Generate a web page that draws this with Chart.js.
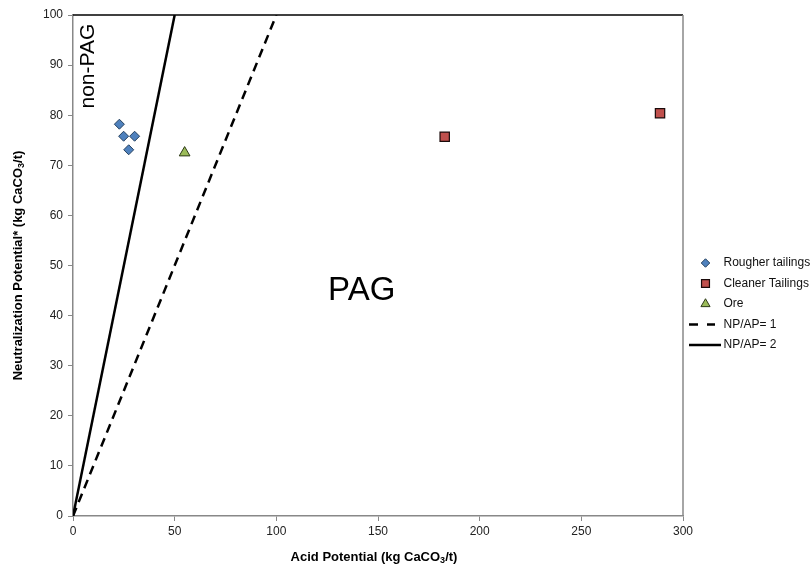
<!DOCTYPE html>
<html>
<head>
<meta charset="utf-8">
<script src="https://cdn.jsdelivr.net/npm/chart.js@4/dist/chart.umd.min.js"></script>
<style>
  body { margin: 0; background: #fff; }
  canvas { display: block; }
</style>
</head>
<body>
<canvas id="abaChart" width="811" height="567"></canvas>
<script>
// values
const roughX = [22.8, 24.9, 30.3, 27.4];
const roughY = [78.2, 75.8, 75.8, 73.1];
const cleanerX = [182.8, 288.7];
const cleanerY = [75.7, 80.4];
const oreX = [54.9];
const oreY = [72.5];
const np1X = [0, 100];
const np1Y = [0, 100];
const np2X = [0, 50];
const np2Y = [0, 100];

const xTicks = [0, 50, 100, 150, 200, 250, 300];
const yTicks = [0, 10, 20, 30, 40, 50, 60, 70, 80, 90, 100];

const FONT = "'Liberation Sans', Arial, sans-serif";
const pts = (xs, ys) => xs.map((x, i) => ({ x: x, y: ys[i] }));

// legend, region labels, box edges and axis titles (with subscript 3)
const decor = {
  id: "decor",
  afterDraw(chart) {
    const ctx = chart.ctx;
    const a = chart.chartArea;
    const xs = chart.scales.x;
    const ys = chart.scales.y;
    ctx.save();

    // plot box top + right edge
    ctx.lineWidth = 1.5;
    ctx.strokeStyle = "#000";
    ctx.beginPath();
    ctx.moveTo(a.left, a.top);
    ctx.lineTo(a.right, a.top);
    ctx.stroke();
    ctx.strokeStyle = "#888";
    ctx.beginPath();
    ctx.moveTo(a.right, a.top);
    ctx.lineTo(a.right, a.bottom);
    ctx.stroke();

    // region labels
    ctx.fillStyle = "#000";
    ctx.textAlign = "center";
    ctx.textBaseline = "middle";
    ctx.font = "33px " + FONT;
    ctx.fillText("PAG", xs.getPixelForValue(142), ys.getPixelForValue(45));
    ctx.save();
    ctx.translate(xs.getPixelForValue(7.4), ys.getPixelForValue(89.8));
    ctx.rotate(-Math.PI / 2);
    ctx.font = "21px " + FONT;
    ctx.fillText("non-PAG", 0, 0);
    ctx.restore();

    // axis titles
    const sub = (parts, cx, cy) => {
      const big = "bold 13px " + FONT;
      const small = "bold 9px " + FONT;
      let w = 0;
      parts.forEach(p => { ctx.font = p[1] ? small : big; w += ctx.measureText(p[0]).width; });
      let x = cx - w / 2;
      ctx.textAlign = "left";
      parts.forEach(p => {
        ctx.font = p[1] ? small : big;
        ctx.fillText(p[0], x, p[1] ? cy + 4 : cy);
        x += ctx.measureText(p[0]).width;
      });
    };
    sub([["Acid Potential (kg CaCO", 0], ["3", 1], ["/t)", 0]], (a.left + a.right) / 2 - 4, 557);
    ctx.save();
    ctx.translate(18, (a.top + a.bottom) / 2);
    ctx.rotate(-Math.PI / 2);
    sub([["Neutralization Potential* (kg CaCO", 0], ["3", 1], ["/t)", 0]], 0, 0);
    ctx.restore();

    // legend
    let ly = 263;
    ctx.font = "12px " + FONT;
    ctx.textBaseline = "middle";
    chart.data.datasets.forEach(ds => {
      if (ds.showLine) {
        ctx.strokeStyle = ds.borderColor;
        ctx.lineWidth = ds.borderWidth;
        ctx.setLineDash(ds.borderDash ? [9, 9] : []);
        ctx.beginPath();
        ctx.moveTo(689, ly);
        ctx.lineTo(ds.borderDash ? 715 : 721, ly);
        ctx.stroke();
        ctx.setLineDash([]);
      } else {
        ctx.fillStyle = ds.backgroundColor;
        ctx.strokeStyle = ds.borderColor;
        ctx.lineWidth = ds.borderWidth;
        Chart.helpers.drawPoint(ctx, { pointStyle: ds.pointStyle, radius: ds.pointRadius * 0.85, rotation: 0, borderWidth: ds.borderWidth }, 705.5, ly);
      }
      ctx.fillStyle = "#111";
      ctx.textAlign = "left";
      ctx.fillText(ds.label, 723.5, ly);
      ly += 20.5;
    });
    ctx.restore();
  }
};

new Chart(document.getElementById("abaChart"), {
  type: "scatter",
  data: {
    datasets: [
      { label: "Rougher tailings", data: pts(roughX, roughY), pointStyle: "rectRot", pointRadius: 5, backgroundColor: "#4F81BD", borderColor: "#26415f", borderWidth: 1 },
      { label: "Cleaner Tailings", data: pts(cleanerX, cleanerY), pointStyle: "rect", pointRadius: 6.6, backgroundColor: "#C0504D", borderColor: "#1a0a0a", borderWidth: 1.2 },
      { label: "Ore", data: pts(oreX, oreY), pointStyle: "triangle", pointRadius: 6.2, backgroundColor: "#9BBB59", borderColor: "#2d3a18", borderWidth: 1 },
      { label: "NP/AP= 1", data: pts(np1X, np1Y), showLine: true, borderColor: "#000", borderWidth: 2.5, borderDash: [9, 6], pointRadius: 0, fill: false },
      { label: "NP/AP= 2", data: pts(np2X, np2Y), showLine: true, borderColor: "#000", borderWidth: 2.5, pointRadius: 0, fill: false }
    ]
  },
  options: {
    responsive: false,
    animation: false,
    devicePixelRatio: 1,
    layout: { padding: { left: 0, top: 15, right: 128, bottom: 0 } },
    plugins: { legend: { display: false }, tooltip: { enabled: false } },
    scales: {
      x: {
        type: "linear",
        min: 0, max: 300,
        afterBuildTicks: s => { s.ticks = xTicks.map(v => ({ value: v })); },
        afterFit: s => { s.height = 51; },
        ticks: { color: "#222", font: { family: FONT, size: 12 }, padding: 3, maxRotation: 0 },
        grid: { drawOnChartArea: false, drawTicks: true, tickLength: 5, color: "#888" },
        border: { color: "#888", width: 1.5 }
      },
      y: {
        min: 0, max: 100,
        afterBuildTicks: s => { s.ticks = yTicks.map(v => ({ value: v })); },
        afterFit: s => { s.width = 73; },
        ticks: { color: "#222", font: { family: FONT, size: 12 }, padding: 5 },
        grid: { drawOnChartArea: false, drawTicks: true, tickLength: 5, color: "#888" },
        border: { color: "#888", width: 1.5 }
      }
    }
  },
  plugins: [decor]
});
</script>
</body>
</html>
